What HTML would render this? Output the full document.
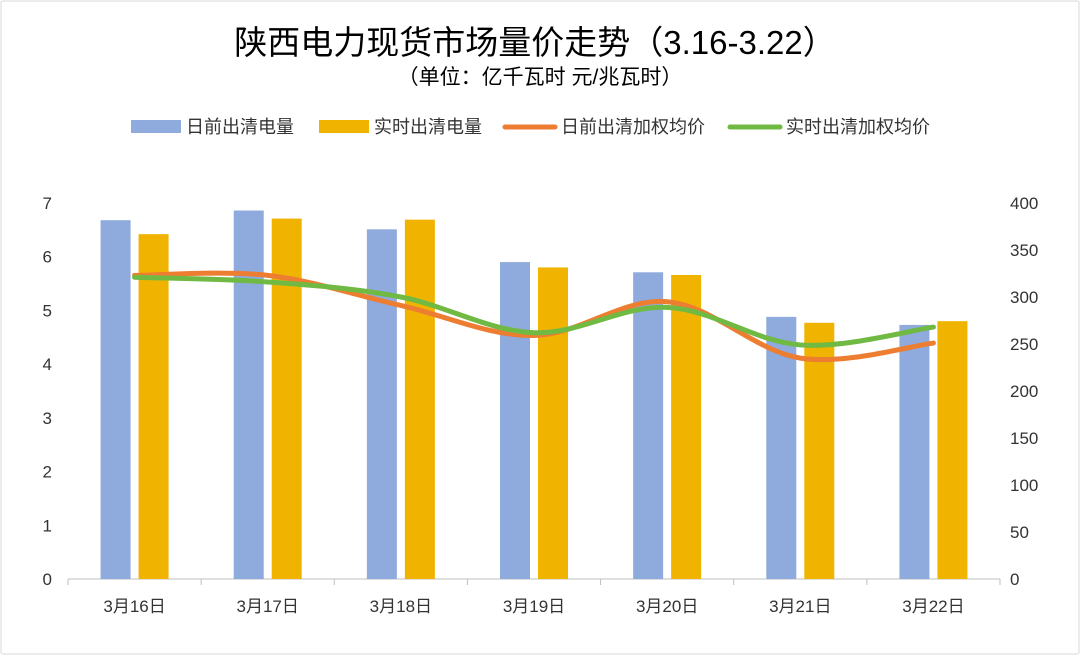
<!DOCTYPE html>
<html><head><meta charset="utf-8"><style>
body{margin:0;background:#fff;font-family:"Liberation Sans","Noto Sans CJK SC",sans-serif}
#wrap{position:relative;width:1080px;height:655px;overflow:hidden}
</style></head><body>
<div id="wrap">
<svg id="chart" width="1080" height="655" xmlns="http://www.w3.org/2000/svg">
<rect x="1" y="1" width="1078" height="653" fill="#fff" stroke="#d9d9d9" rx="2"/>
<text x="535" y="54" font-size="33" text-anchor="middle" fill="#000" font-family="Liberation Sans,Noto Sans CJK SC,sans-serif">陕西电力现货市场量价走势（3.16-3.22）</text>
<text x="540" y="84" font-size="21" text-anchor="middle" fill="#000" font-family="Liberation Sans,Noto Sans CJK SC,sans-serif">（单位：亿千瓦时 元/兆瓦时）</text>
<g id="legend" font-size="18" font-family="Liberation Sans,Noto Sans CJK SC,sans-serif" fill="#333">
<g><rect x="131" y="120" width="50" height="13" fill="#8faadc"/><text x="186" y="133">日前出清电量</text></g>
<g><rect x="319" y="120" width="50" height="13" fill="#f0b400"/><text x="374" y="133">实时出清电量</text></g>
<g><line x1="505" y1="127" x2="555" y2="127" stroke="#ed7d31" stroke-width="5" stroke-linecap="round"/><text x="561" y="133">日前出清加权均价</text></g>
<g><line x1="730" y1="127" x2="780" y2="127" stroke="#70b943" stroke-width="5" stroke-linecap="round"/><text x="786" y="133">实时出清加权均价</text></g>
</g>
<g id="axes"></g><g id="bars"></g><g id="lines"></g>
</svg>
</div>
<script>
const categories=["3月16日","3月17日","3月18日","3月19日","3月20日","3月21日","3月22日"];
const dayAheadVolume=[6.68,6.86,6.51,5.9,5.71,4.88,4.73];
const realtimeVolume=[6.42,6.71,6.69,5.8,5.66,4.77,4.8];
const dayAheadPrice=[323,323,291,259,295,235,251];
const realtimePrice=[321,316,300,262,289,249,268];
const leftTicks=[0,1,2,3,4,5,6,7];
const rightTicks=[0,50,100,150,200,250,300,350,400];
const NS="http://www.w3.org/2000/svg";
const X0=68,X1=1000,Y0=579,Y1=203;
const band=(X1-X0)/categories.length;
const yL=v=>Y0-(v/7)*(Y0-Y1);
const yR=v=>Y0-(v/400)*(Y0-Y1);
const cx=i=>X0+band*(i+0.5);
function mk(tag,attrs,parent,txt){const e=document.createElementNS(NS,tag);for(const k in attrs)e.setAttribute(k,attrs[k]);if(txt!==undefined)e.textContent=txt;parent.appendChild(e);return e;}
const ax=document.getElementById('axes');
const base=mk('line',{x1:X0,x2:X1,y1:Y0,y2:Y0,stroke:'#bfbfbf','stroke-width':1},ax);


leftTicks.forEach(t=>{const e=mk('text',{x:52,y:yL(t)+6,'font-size':17,'text-anchor':'end',fill:'#333'},ax,t);

});
rightTicks.forEach(t=>{const e=mk('text',{x:1010,y:yR(t)+6,'font-size':17,'text-anchor':'start',fill:'#333'},ax,t);

});
categories.forEach((c,i)=>{const tk=mk('line',{x1:X0+band*i,x2:X0+band*i,y1:Y0,y2:Y0+6,stroke:'#bfbfbf'},ax);


const e=mk('text',{x:cx(i),y:612,'font-size':17,'text-anchor':'middle',fill:'#333'},ax,c);

});
const endTick=mk('line',{x1:X1,x2:X1,y1:Y0,y2:Y0+6,stroke:'#bfbfbf'},ax);


const bg=document.getElementById('bars');const bw=30;
categories.forEach((c,i)=>{
const b1=mk('rect',{x:cx(i)-34,y:yL(dayAheadVolume[i]),width:bw,height:Y0-yL(dayAheadVolume[i]),fill:'#8faadc'},bg);


const b2=mk('rect',{x:cx(i)+4,y:yL(realtimeVolume[i]),width:bw,height:Y0-yL(realtimeVolume[i]),fill:'#f0b400'},bg);

});
function smooth(vals){const p=vals.map((v,i)=>[cx(i),yR(v)]);let d=`M${p[0][0]},${p[0][1]}`;
for(let i=0;i<p.length-1;i++){const a=p[i-1]||p[i],b=p[i],c=p[i+1],e=p[i+2]||c;
const t=0.17;d+=` C${b[0]+(c[0]-a[0])*t},${b[1]+(c[1]-a[1])*t} ${c[0]-(e[0]-b[0])*t},${c[1]-(e[1]-b[1])*t} ${c[0]},${c[1]}`;}return d;}
const lg=document.getElementById('lines');
const l1=mk('path',{d:smooth(dayAheadPrice),fill:'none',stroke:'#ed7d31','stroke-width':5,'stroke-linecap':'round'},lg);


const l2=mk('path',{d:smooth(realtimePrice),fill:'none',stroke:'#70b943','stroke-width':5,'stroke-linecap':'round'},lg);


</script>
</body></html>
